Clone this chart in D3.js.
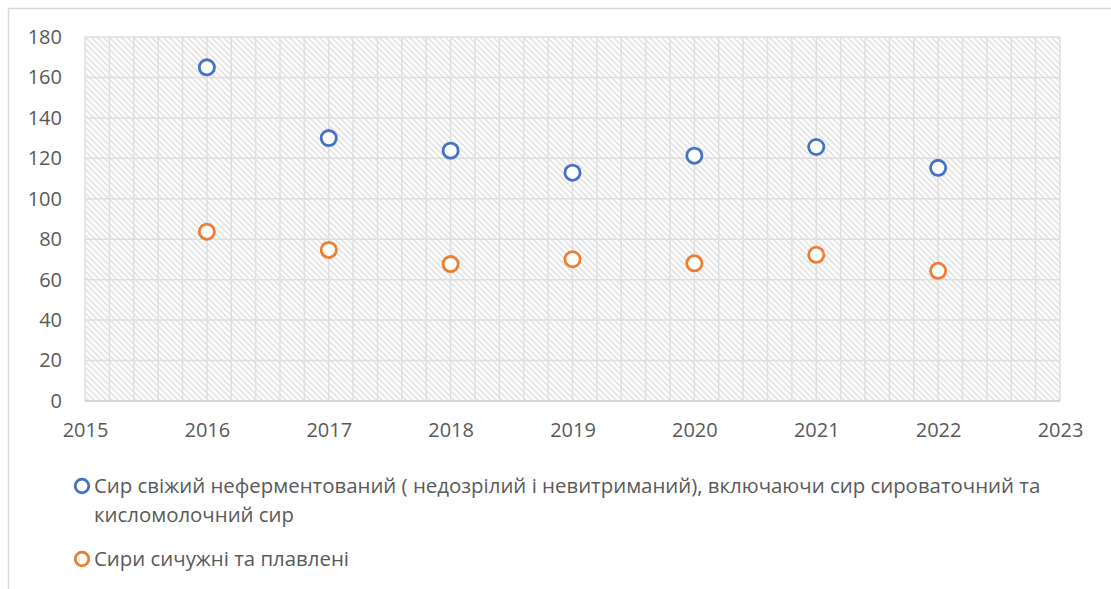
<!DOCTYPE html>
<html>
<head>
<meta charset="utf-8">
<script src="https://cdn.jsdelivr.net/npm/d3@7"></script>
<style>
  html, body { margin: 0; padding: 0; background: #fff; }
  svg { display: block; }
  text { font-family: "Open Sans", "Noto Sans", sans-serif; fill: #595959; }
</style>
</head>
<body>
<svg id="chart" width="1111" height="589"></svg>
<script>
const years = [2016, 2017, 2018, 2019, 2020, 2021, 2022];
const freshCheese = [165, 130, 123.8, 112.9, 121.3, 125.6, 115.3];
const rennetCheese = [83.7, 74.7, 67.7, 70.1, 68.1, 72.3, 64.4];
const seriesNames = [
  ["Сир свіжий неферментований ( недозрілий і невитриманий), включаючи сир сироваточний та", "кисломолочний сир"],
  ["Сири сичужні та плавлені"]
];
const xTicks = [2015, 2016, 2017, 2018, 2019, 2020, 2021, 2022, 2023];
const yTicks = [0, 20, 40, 60, 80, 100, 120, 140, 160, 180];
const colors = ["#4472C4", "#ED7D31"];

const svg = d3.select("#chart");
const W = 1111, H = 589;
const m = {left: 85, right: 1060, top: 37, bottom: 401};
const FS = "20px";
const LFS = "20.4px";

// chart border
svg.append("rect").attr("x", 8.5).attr("y", 8.5).attr("width", W).attr("height", H)
  .attr("fill", "#fff").attr("stroke", "#d9d9d9").attr("stroke-width", 1.5);

const x = d3.scaleLinear().domain([2015, 2023]).range([m.left, m.right]);
const y = d3.scaleLinear().domain([0, 180]).range([m.bottom, m.top]);

// hatch pattern
const defs = svg.append("defs");
const pat = defs.append("pattern").attr("id", "hatch").attr("patternUnits", "userSpaceOnUse")
  .attr("width", 6).attr("height", 6);
pat.append("rect").attr("width", 6).attr("height", 6).attr("fill", "#fff");
pat.append("path").attr("d", "M-1,-1 L7,7 M-4,2 L2,8 M4,-2 L8,2")
  .attr("stroke", "#e6e6e6").attr("stroke-width", 2);

svg.append("rect").attr("x", m.left).attr("y", m.top)
  .attr("width", m.right - m.left).attr("height", m.bottom - m.top)
  .attr("fill", "url(#hatch)");

// gridlines
const grid = svg.append("g").attr("stroke", "#dedede").attr("stroke-width", 1.5);
const minorX = d3.range(2015, 2023.001, 0.2);
grid.selectAll("line.vx").data(minorX).join("line")
  .attr("x1", d => x(d)).attr("x2", d => x(d)).attr("y1", m.top).attr("y2", m.bottom);
grid.selectAll("line.hy").data(yTicks).join("line")
  .attr("x1", m.left).attr("x2", m.right).attr("y1", d => y(d)).attr("y2", d => y(d));

// bottom axis line
svg.append("line").attr("x1", m.left).attr("x2", m.right).attr("y1", m.bottom).attr("y2", m.bottom)
  .attr("stroke", "#d0d0d0").attr("stroke-width", 1.5);

// axes
const yAxis = svg.append("g").attr("transform", `translate(${m.left - 23},0)`)
  .call(d3.axisLeft(y).tickValues(yTicks).tickSize(0).tickPadding(0));
yAxis.select(".domain").remove();
yAxis.selectAll("text").style("font-size", FS).attr("fill", "#595959");

const xAxis = svg.append("g").attr("transform", `translate(0,${m.bottom + 22})`)
  .call(d3.axisBottom(x).tickValues(xTicks).tickFormat(d3.format("d")).tickSize(0).tickPadding(0));
xAxis.select(".domain").remove();
xAxis.selectAll("text").style("font-size", FS).attr("fill", "#595959");

// points
[freshCheese, rennetCheese].forEach((vals, i) => {
  svg.append("g").selectAll("circle").data(years.map((yr, j) => [yr, vals[j]])).join("circle")
    .attr("cx", d => x(d[0])).attr("cy", d => y(d[1])).attr("r", 7.6)
    .attr("fill", "#fff").attr("stroke", colors[i]).attr("stroke-width", 2.8);
});

// legend
const legendY = [486, 559];
seriesNames.forEach((lines, i) => {
  svg.append("circle").attr("cx", 82).attr("cy", legendY[i]).attr("r", 6.8)
    .attr("fill", "#fff").attr("stroke", colors[i]).attr("stroke-width", 2.8);
  lines.forEach((t, k) => {
    svg.append("text").attr("x", 94).attr("y", legendY[i] + k * 29)
      .attr("dy", "0.35em").style("font-size", LFS).text(t);
  });
});
</script>
</body>
</html>
